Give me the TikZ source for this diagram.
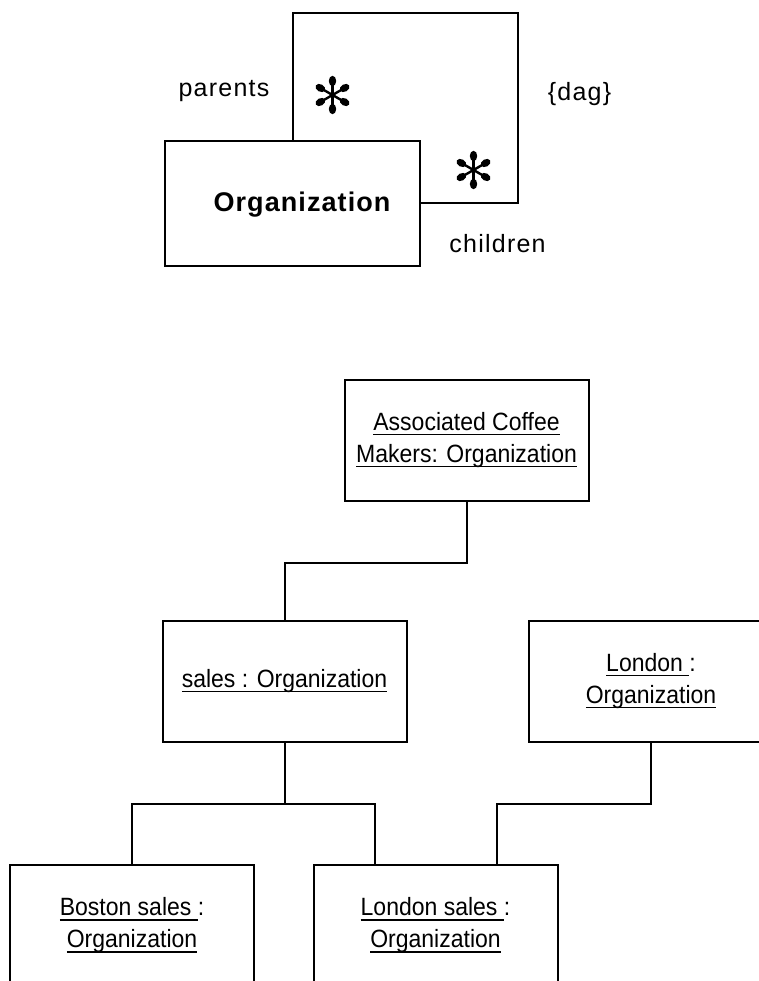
\documentclass[tikz,border=0pt]{standalone}
\usepackage{fontspec}
\setmainfont{Liberation Sans}
\newfontfamily\rolefont[LetterSpace=5]{Liberation Sans}
\newfontfamily\classfont[LetterSpace=4]{Liberation Sans}
\newfontfamily\objfont[FakeStretch=0.92]{Liberation Sans}
% underlined object name, rule close under the baseline
\newcommand\objul[1]{\setbox0\hbox{#1}\rlap{\rule[-5pt]{\wd0}{1.6pt}}\box0}

\begin{document}
\begin{tikzpicture}[x=1pt,y=-1pt,
  wire/.style={line width=2pt},
  classbox/.style={draw, line width=2pt, minimum width=255pt, minimum height=125pt, inner sep=0pt},
  objbox/.style={draw, line width=2pt, minimum width=244pt, minimum height=121pt,
    inner sep=0pt, align=center, font=\objfont\fontsize{25}{32}\selectfont},
  role/.style={font=\rolefont\fontsize{25}{30}\selectfont, anchor=base, inner sep=0pt},
  mult/.pic={
    \foreach \a in {90,30,-30,-90,150,210}{
      \draw[line width=2.4pt] (0,0) -- (\a:12.5);
      \fill[rotate=\a] (14,0) ellipse (5.2 and 3.7);
    }
  }
]
\useasboundingbox (0,0) rectangle (759,981);
\clip (0,0) rectangle (759,981);

% ---- class with its reflexive association ----
\node[classbox] (org) at (292.5,203.5) {};
\node[font=\classfont\bfseries\fontsize{27}{30}\selectfont, anchor=base, inner sep=0pt]
  (orgname) at (302,212) {Organization};
\coordinate (loopcorner) at (518,13);
\draw[wire] (org.north) |- (loopcorner) |- (org.east);

\node[role] (parents) at (224,97) {parents};
\node[role] (children) at (497.5,253) {children};
\node[role] (dag) at (579.5,101) {\{dag\}};
\pic at (332.5,95) {mult};
\pic at (473.5,170) {mult};

% ---- object instances ----
\node[objbox] (acm) at (466.5,440) {\objul{Associated Coffee}\\\objul{Makers: Organization}};
\node[objbox] (sales) at (284.5,681) {\objul{sales : Organization}};
\node[objbox] (london) at (651,681) {\objul{London }:\\\objul{Organization}};
\node[objbox] (boston) at (132,925.5) {\objul{Boston sales }:\\\objul{Organization}};
\node[objbox] (lsales) at (435.5,925.5) {\objul{London sales }:\\\objul{Organization}};

\draw[wire] (acm.south) -- ++(0,61) -| (sales.north);
\draw[wire] (sales.south) -- ++(0,61) -| (boston.north);
\draw[wire] (sales.south) -- ++(0,61) -| ([xshift=-61pt]lsales.north);
\draw[wire] (london.south) -- ++(0,61) -| ([xshift=61pt]lsales.north);
\end{tikzpicture}
\end{document}
